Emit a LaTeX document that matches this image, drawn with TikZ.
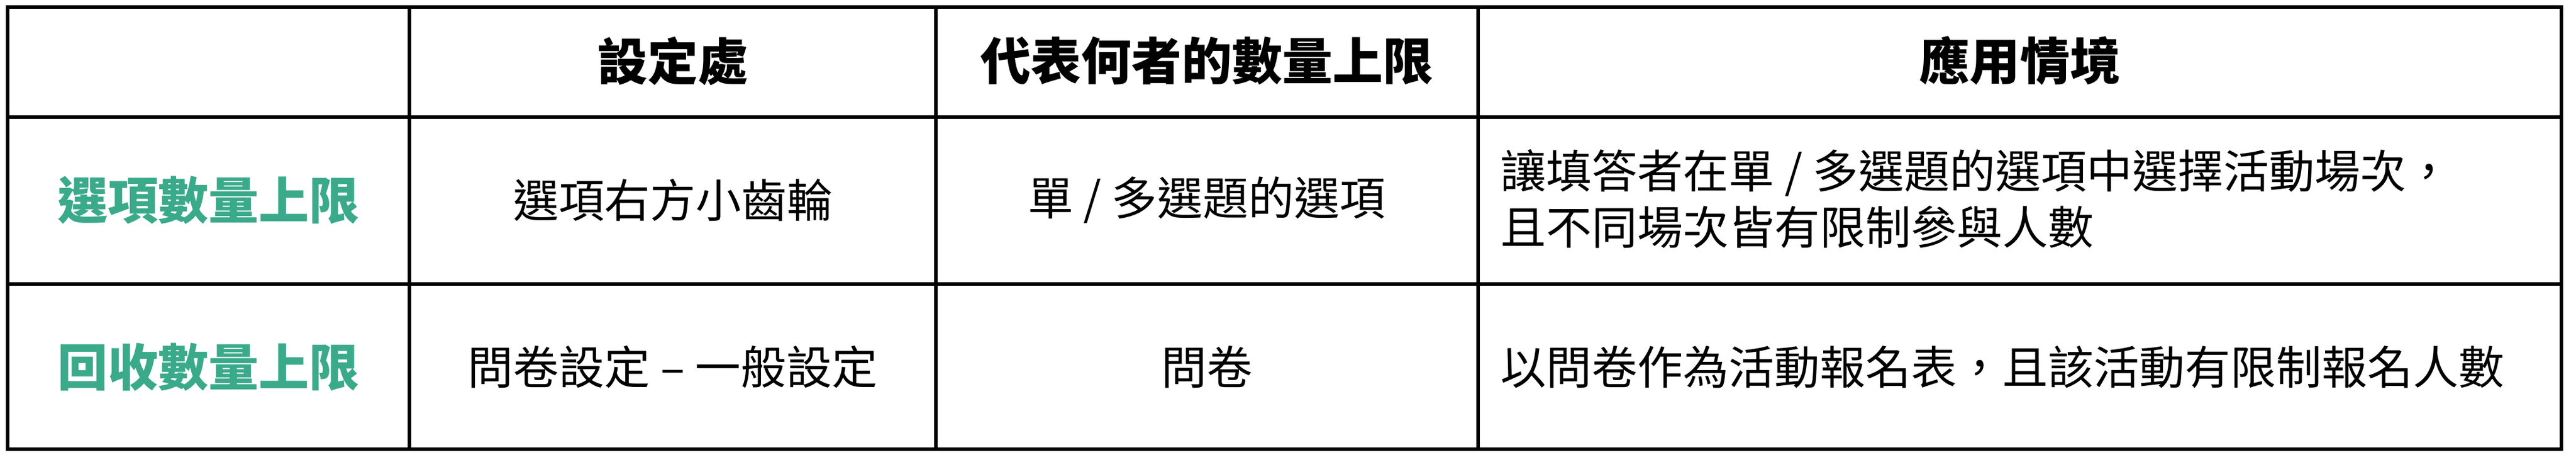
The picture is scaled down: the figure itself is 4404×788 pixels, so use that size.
\documentclass[tikz,border=0pt]{standalone}
\usepackage{fontspec}
\setmainfont{Noto Sans CJK TC}
\usetikzlibrary{positioning}
\definecolor{tealtxt}{HTML}{3AAA8A}
\tikzset{
  grid/.style={line width=6pt, black},
  head/.style={font=\fontsize{86}{96}\selectfont\bfseries, anchor=center},
  rowhead/.style={font=\fontsize{86}{96}\selectfont\bfseries, text=tealtxt, anchor=center},
  cell/.style={font=\fontsize{78}{96}\selectfont, anchor=center},
  wide/.style={font=\fontsize{78}{96}\selectfont, anchor=west, align=left}
}
\begin{document}
\begin{tikzpicture}[x=1pt, y=-1pt]
\useasboundingbox (0,0) rectangle (4404,788);

% table lines
\draw[grid] (13,12) rectangle (4379,767);
\draw[grid] (13,200) -- (4379,200);
\draw[grid] (13,485) -- (4379,485);
\draw[grid] (700,12) -- (700,767);
\draw[grid] (1600,12) -- (1600,767);
\draw[grid] (2527,12) -- (2527,767);

% header
\node (hset) [head] at (1150,104) {設定處};
\node (hlimit) [head] at (2063,104) {代表何者的數量上限};
\node (huse) [head] at (3453,104) {應用情境};

% row 1
\node (optlimit) [rowhead] at (356,342) {選項數量上限};
\node (optset) [cell] at (1150,342) {選項右方小齒輪};
\node (opttarget) [cell] at (2063,342) {單 / 多選題的選項};
\node (optuse) [wide] at (2562,340) {讓填答者在單 / 多選題的選項中選擇活動場次，\\且不同場次皆有限制參與人數};

% row 2
\node (resplimit) [rowhead] at (356,627) {回收數量上限};
\node (respset) [cell] at (1150,627) {問卷設定 – 一般設定};
\node (resptarget) [cell] at (2063,627) {問卷};
\node (respuse) [wide] at (2562,627) {以問卷作為活動報名表，且該活動有限制報名人數};

\end{tikzpicture}
\end{document}
